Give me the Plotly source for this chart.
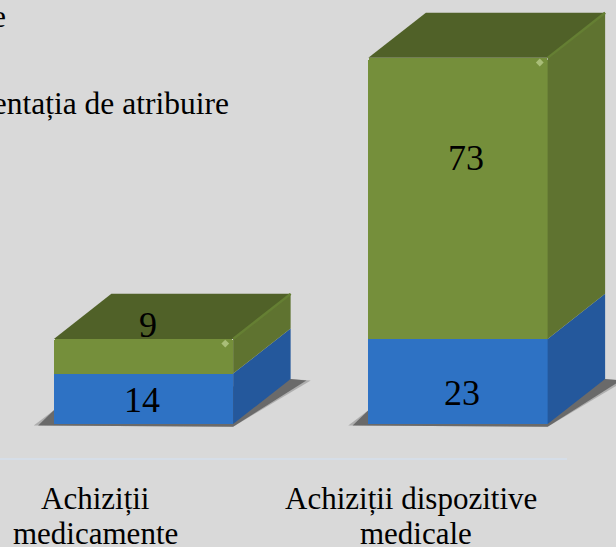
import plotly.graph_objects as go

category_first_lines = ["Achiziții", "Achiziții dispozitive"]
category_second_lines = ["medicamente", "medicale"]
lower_values = [14, 23]
upper_values = [9, 73]
visible_legend_lines = ["e", "Documentația de atribuire"]

W, H = 616, 547
BG = "#d9d9d9"
FRONT = ["#2e72c4", "#758f3b"]
SIDE = ["#24589c", "#5f7330"]
TOP = "#506128"
FLOOR = 0.9
YMAX = 111.03
DX = 0.1828
DY = 11.7
BW = 0.57
X0 = -143.5 / 314.5
X1 = (W - 143.5) / 314.5
FLOOR_PX = 424


def paper_y(v):
    return (H - (FLOOR_PX - (v - FLOOR) * 3.85)) / H


fig = go.Figure()
fig.add_bar(x=[0, 1], y=lower_values, width=BW, marker=dict(color=FRONT[0], line_width=0),
            showlegend=False, hoverinfo="skip")
fig.add_bar(x=[0, 1], y=upper_values, width=BW, marker=dict(color=FRONT[1], line_width=0, cornerradius=3),
            showlegend=False, hoverinfo="skip")


def face(xs, ys, color):
    fig.add_scatter(x=xs, y=ys, mode="lines", fill="toself", fillcolor=color,
                    line=dict(width=0, color=color), showlegend=False, hoverinfo="skip")


shapes = []
annotations = []
for i, (lo, up) in enumerate(zip(lower_values, upper_values)):
    xl, xr = i - BW / 2, i + BW / 2
    total = lo + up
    for pad, op in ((0.014, 0.3), (0.0, 0.7)):
        p = [(xl - 0.05 - pad, paper_y(FLOOR - 0.4)), (xl, paper_y(FLOOR + 3.6)),
             (xr + DX, paper_y(FLOOR + DY)), (xr + DX + 0.05 + pad, paper_y(FLOOR + DY - 0.4)),
             (xr, paper_y(FLOOR - 0.7)), ]
        path = "M " + " L ".join(f"{a:.4f} {b:.4f}" for a, b in p) + " Z"
        shapes.append(dict(type="path", xref="x", yref="paper", path=path, layer="below",
                           fillcolor="#4d4d4d", opacity=op, line_width=0))
    face([xr, xr + DX, xr + DX, xr], [FLOOR, FLOOR + DY, lo + DY, lo], SIDE[0])
    face([xr, xr + DX, xr + DX, xr], [lo, lo + DY, total + DY, total], SIDE[1])
    face([xl, xr, xr + DX, xl + DX], [total, total, total + DY, total + DY], TOP)
    fig.add_scatter(x=[xr, xr + DX], y=[total, total + DY], mode="lines",
                    line=dict(color="#657f33", width=2.5), showlegend=False, hoverinfo="skip")
    fig.add_scatter(x=[xr - 0.025], y=[total - 1.2], mode="markers",
                    marker=dict(color="#a9bd78", size=6, symbol="diamond", line_width=0),
                    showlegend=False, hoverinfo="skip")

label_font = dict(family="Liberation Serif", size=36, color="#000000")
label_specs = [
    (0, lower_values[0] / 2, lower_values[0], -2, 0.5),
    (0, lower_values[0] + upper_values[0] / 2, upper_values[0], 4, 31),
    (1, lower_values[1] / 2, lower_values[1], 4, -10),
    (1, lower_values[1] + upper_values[1] / 2, upper_values[1], 8, 40),
]
for x, y, val, xs, ys in label_specs:
    annotations.append(dict(x=x, y=y, xref="x", yref="y", text=str(val), showarrow=False,
                            xshift=xs, yshift=ys, font=label_font))

legend_font = dict(family="Liberation Serif", size=31.5, color="#000000")
annotations.append(dict(x=8 / W, y=1 - 17 / H, xref="paper", yref="paper", text=visible_legend_lines[0],
                        showarrow=False, xanchor="right", yanchor="middle", font=legend_font))
annotations.append(dict(x=231 / W, y=1 - 104 / H, xref="paper", yref="paper", text=visible_legend_lines[1],
                        showarrow=False, xanchor="right", yanchor="middle", font=legend_font))

tick_font = dict(family="Liberation Serif", size=31, color="#000000")
for i, (a, b) in enumerate(zip(category_first_lines, category_second_lines)):
    annotations.append(dict(x=i - 0.152 + 0.004 * i, xref="x", y=1 - 498 / H, yref="paper", text=a,
                            showarrow=False, yanchor="middle", font=tick_font))
    annotations.append(dict(x=i - 0.152 + 0.02 * i, xref="x", y=1 - 533 / H, yref="paper", text=b,
                            showarrow=False, yanchor="middle", font=tick_font))

shapes.append(dict(type="line", xref="paper", yref="paper", x0=0, x1=567 / W,
                   y0=(H - 459) / H, y1=(H - 459) / H, line=dict(color="#d6dee8", width=2), layer="below"))

fig.update_layout(
    width=W, height=H, margin=dict(l=0, r=0, t=0, b=0),
    paper_bgcolor=BG, plot_bgcolor=BG, barmode="stack", showlegend=False,
    shapes=shapes, annotations=annotations,
    xaxis=dict(range=[X0, X1], anchor="free", position=(H - 459) / H, visible=False, showgrid=False),
    yaxis=dict(range=[FLOOR, YMAX], domain=[(H - FLOOR_PX) / H, 1], visible=False, showgrid=False),
)
fig.write_html("out.html", config=dict(displayModeBar=False),
               post_script="document.body.style.margin='0';document.body.style.overflow='hidden';document.documentElement.style.background='#d9d9d9';")
